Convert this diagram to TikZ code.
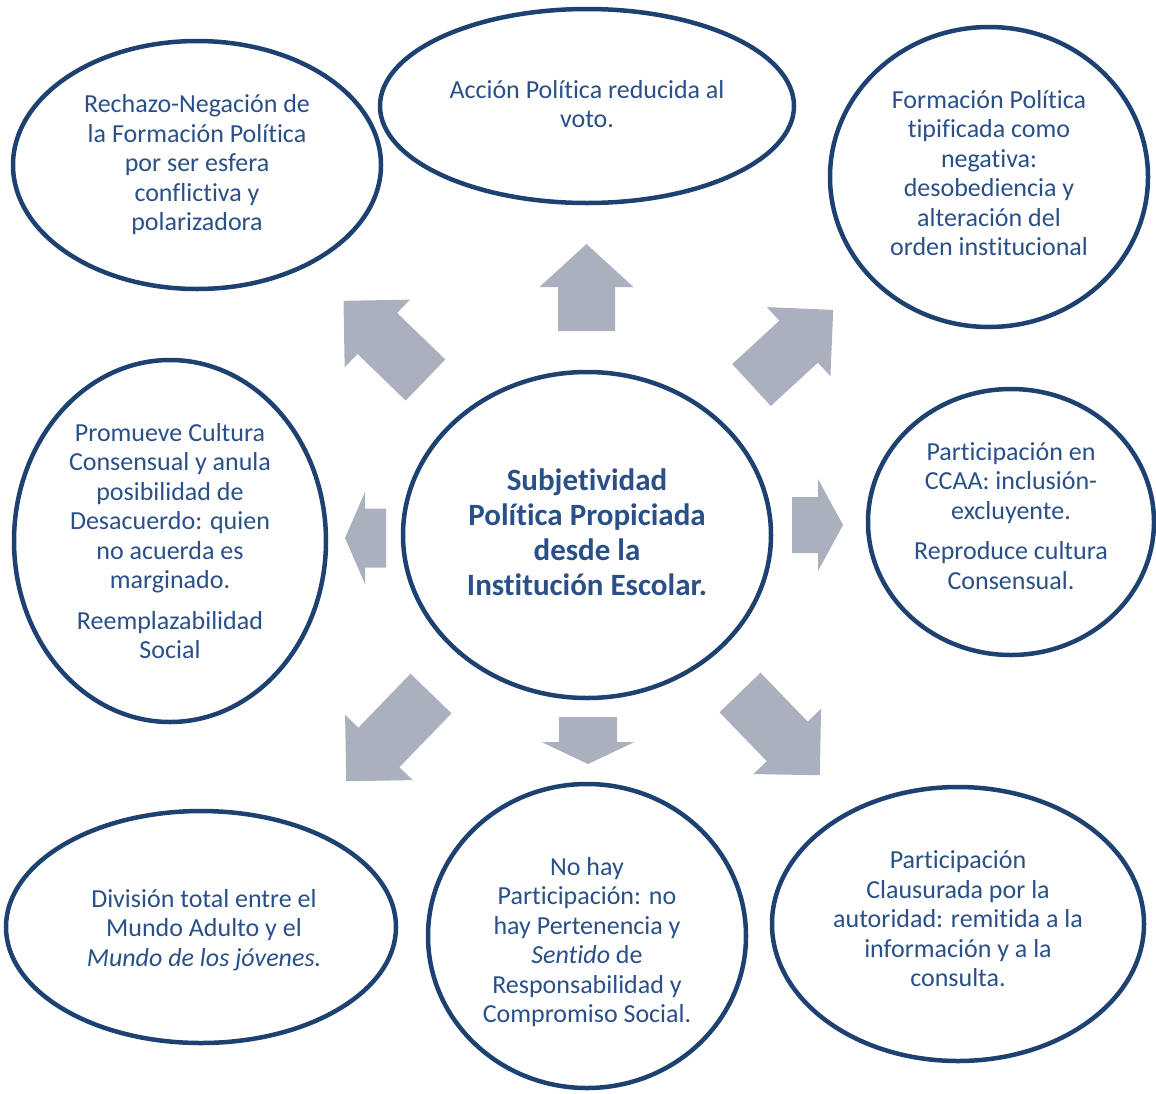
\documentclass[tikz,border=0pt]{standalone}
\usepackage{fontspec}
\setmainfont{Carlito}[Ligatures=NoCommon]
\usetikzlibrary{shapes.geometric}
\definecolor{rimblue}{HTML}{1D4272}
\definecolor{inkblue}{HTML}{2A5088}
\definecolor{arrowgrey}{HTML}{ABB0BE}
\tikzset{
  bubble/.style={ellipse, draw=rimblue, line width=4.5pt, fill=white, inner sep=0pt},
  words/.style={align=center, text=inkblue, inner sep=0pt, font=\fontsize{26}{29.5}\selectfont},
  hubwords/.style={words, font=\fontsize{31}{35}\selectfont\bfseries},
  arrowfill/.style={fill=arrowgrey},
}
% block arrow: tail point, direction (deg), length, shaft half-width, head half-width, head length
\newcommand{\blockarrow}[6]{%
  \fill[arrowfill, shift={#1}, rotate=#2]
    (0,-#4) -- ({#3-#6},-#4) -- ({#3-#6},-#5) -- (#3,0) -- ({#3-#6},#5) -- ({#3-#6},#4) -- (0,#4) -- cycle;}
\begin{document}
\begin{tikzpicture}[x=1pt, y=-1pt]
\useasboundingbox (0,0) rectangle (1156,1093);

% central idea
\node[bubble, minimum width=368pt, minimum height=326pt] (hub) at (587,535) {};
\node[hubwords] (hubtext) at ([yshift=3pt]hub.center)
  {Subjetividad\\ Política Propiciada\\ desde la\\ Institución Escolar.};

% surrounding ideas
\node[bubble, minimum width=368pt, minimum height=248pt] (rechazo) at (197,165) {};
\node[words] (rechazotext) at (rechazo.center)
  {Rechazo-Negación de\\ la Formación Política\\ por ser esfera\\ conflictiva y\\ polarizadora};

\node[bubble, minimum width=414pt, minimum height=194pt] (accion) at (587,106) {};
\node[words] (acciontext) at ([yshift=2pt]accion.center)
  {Acción Política reducida al\\ voto.};

\node[bubble, minimum width=318pt, minimum height=300pt] (formacion) at (989,177) {};
\node[words] (formaciontext) at ([yshift=4pt]formacion.center)
  {Formación Política\\ tipificada como\\ negativa:\\ desobediencia y\\ alteración del\\ orden institucional};

\node[bubble, minimum width=312pt, minimum height=362pt] (promueve) at (170,541) {};
\node[words] (promuevetext) at (promueve.center)
  {Promueve Cultura\\ Consensual y anula\\ posibilidad de\\ Desacuerdo: quien\\ no acuerda es\\ marginado.\\[11pt] Reemplazabilidad\\ Social};

\node[bubble, minimum width=286pt, minimum height=266pt] (ccaa) at (1011,522) {};
\node[words] (ccaatext) at ([yshift=6pt]ccaa.center)
  {Participación en\\ CCAA: inclusión-\\ excluyente.\\[11pt] Reproduce cultura\\ Consensual.};

\node[bubble, minimum width=390pt, minimum height=232pt] (division) at (201,927) {};
\node[words] (divisiontext) at ([xshift=3pt, yshift=-3pt]division.center)
  {División total entre el\\ Mundo Adulto y el\\ \textit{Mundo de los jóvenes.}};

\node[bubble, minimum width=318pt, minimum height=304pt] (nohay) at (587,936) {};
\node[words] (nohaytext) at ([yshift=-6pt]nohay.center)
  {No hay\\ Participación: no\\ hay Pertenencia y\\ \textit{Sentido} de\\ Responsabilidad y\\ Compromiso Social.};

\node[bubble, minimum width=372pt, minimum height=274pt] (clausurada) at (958,924) {};
\node[words] (clausuradatext) at ([yshift=5pt]clausurada.center)
  {Participación\\ Clausurada por la\\ autoridad: remitida a la\\ información y a la\\ consulta.};

% arrows radiating from the centre
\blockarrow{(586.5,331)}{90}{87}{28.5}{47}{43}
\blockarrow{(588,717)}{-90}{47}{29}{46.5}{22}
\blockarrow{(792,525)}{0}{51}{28}{46}{25}
\blockarrow{(386,538)}{180}{41}{29.5}{46}{20}
\blockarrow{(425.5,380)}{136}{114}{28.5}{47}{47}
\blockarrow{(751.5,385)}{42.6}{111}{28.5}{47}{47}
\blockarrow{(431,693.5)}{226}{122}{28.5}{47}{47}
\blockarrow{(740,692.5)}{-46}{115}{28.5}{47}{47}
\end{tikzpicture}
\end{document}
